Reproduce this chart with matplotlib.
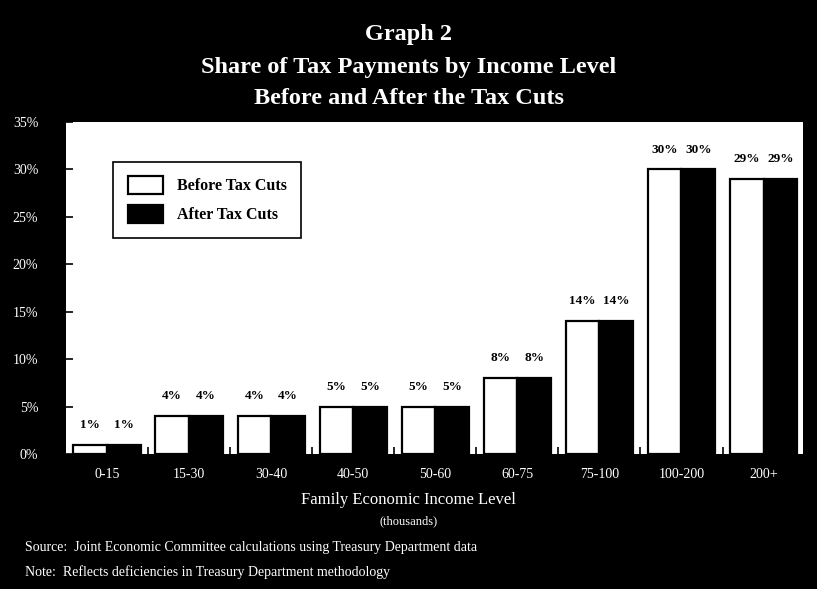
import matplotlib.pyplot as plt
import numpy as np

# Share of tax payments (%) by family economic income level
income_levels = ['0-15', '15-30', '30-40', '40-50', '50-60', '60-75', '75-100', '100-200', '200+']
before_cuts = [1, 4, 4, 5, 5, 8, 14, 30, 29]
after_cuts = [1, 4, 4, 5, 5, 8, 14, 30, 29]
y_ticks = [0, 5, 10, 15, 20, 25, 30, 35]

serif = 'Liberation Serif'

fig = plt.figure(figsize=(8.17, 5.89), dpi=100, facecolor='black')
ax = fig.add_axes([0.0808, 0.2292, 0.902, 0.5637])
ax.set_facecolor('white')

x = np.arange(len(income_levels))
w = 0.41
b1 = ax.bar(x - w / 2, before_cuts, w, color='white', edgecolor='black', linewidth=1.6,
            label='Before Tax Cuts')
b2 = ax.bar(x + w / 2, after_cuts, w, color='black', edgecolor='black', linewidth=1.6,
            label='After Tax Cuts')

for bars, vals in ((b1, before_cuts), (b2, after_cuts)):
    for rect, v in zip(bars, vals):
        ax.annotate(f'{v}%', (rect.get_x() + rect.get_width() / 2, v),
                    xytext=(0, 10), textcoords='offset points', ha='center', va='bottom',
                    fontsize=9.5, fontweight='bold', family=serif, color='black')

ax.set_xlim(-0.5, 8.48)
ax.set_ylim(0, 35)
ax.set_yticks(y_ticks)
ax.set_yticklabels([f'{t}%' for t in y_ticks])
ax.set_xticks(x)
ax.set_xticklabels(income_levels)
ax.set_xticks(np.arange(0.5, 8.5, 1), minor=True)
ax.tick_params(axis='y', direction='in', length=5, width=1.2, color='black', pad=20,
               labelsize=10, labelcolor='white')
ax.tick_params(axis='x', which='major', length=0, pad=10, labelsize=10, labelcolor='white')
ax.tick_params(axis='x', which='minor', direction='in', length=5, width=1.2, color='black')
for lab in ax.get_xticklabels() + ax.get_yticklabels():
    lab.set_family(serif)
for s in ax.spines.values():
    s.set_visible(False)

leg = ax.legend(loc='upper left', bbox_to_anchor=(0.064, 0.88), borderaxespad=0,
                fancybox=False, edgecolor='black', framealpha=1, handlelength=2.2,
                handleheight=1.35, handletextpad=0.9, labelspacing=0.65, borderpad=0.9,
                prop={'family': serif, 'weight': 'bold', 'size': 11.5})
leg.get_frame().set_linewidth(1.2)

title_lines = ['Graph 2', 'Share of Tax Payments by Income Level', 'Before and After the Tax Cuts']
title_base = [40, 73, 104]
for line, yb in zip(title_lines, title_base):
    fig.text(0.5, 1 - yb / 589, line, ha='center', va='baseline', color='white',
             fontsize=17.5, fontweight='bold', family=serif)

fig.text(0.5, 1 - 500 / 589, 'Family Economic Income Level', ha='center', va='center',
         color='white', fontsize=12, family=serif)
fig.text(0.5, 1 - 521 / 589, '(thousands)', ha='center', va='center',
         color='white', fontsize=9, family=serif)
fig.text(25 / 817, 1 - 548 / 589,
         'Source:  Joint Economic Committee calculations using Treasury Department data',
         ha='left', va='center', color='white', fontsize=10, family=serif)
fig.text(25 / 817, 1 - 572 / 589,
         'Note:  Reflects deficiencies in Treasury Department methodology',
         ha='left', va='center', color='white', fontsize=10, family=serif)

fig.savefig('out.png', dpi=100, facecolor='black')
